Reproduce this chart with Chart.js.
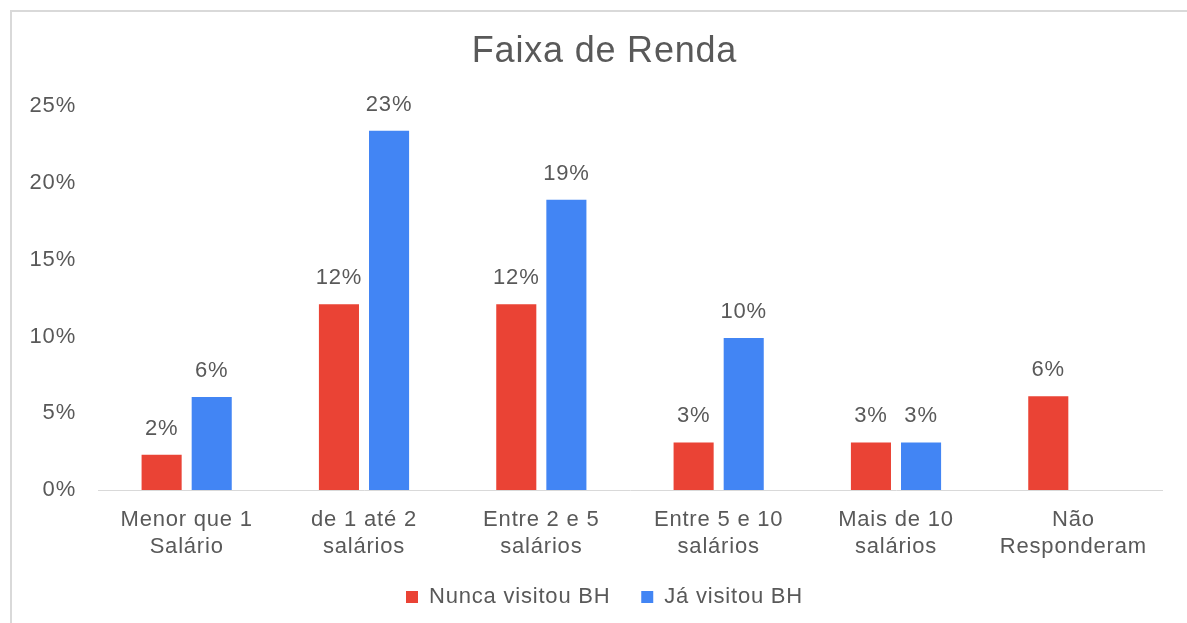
<!DOCTYPE html>
<html>
<head>
<meta charset="utf-8">
<script src="https://cdn.jsdelivr.net/npm/chart.js@4"></script>
<style>
  body { margin: 0; background: #fff; }
  #frame { position: absolute; left: 10px; top: 10px; width: 1200px; height: 700px; border: 2px solid #d9d9d9; }
  #wrap { position: absolute; left: 0; top: 0; width: 1187px; height: 623px; }
</style>
</head>
<body>
<div id="frame"></div>
<div id="wrap"><canvas id="rendaChart"></canvas></div>
<script>
const categories = [
    ["Menor que 1", "Salário"],
    ["de 1 até 2", "salários"],
    ["Entre 2 e 5", "salários"],
    ["Entre 5 e 10", "salários"],
    ["Mais de 10", "salários"],
    ["Não", "Responderam"]
];
const nuncaVisitou = [2.3, 12.1, 12.1, 3.1, 3.1, 6.1];
const jaVisitou = [6.05, 23.4, 18.9, 9.9, 3.1, null];
const yTicks = [0, 5, 10, 15, 20, 25];

const textColor = "#595959";
const fontFamily = "'Liberation Sans', Arial, sans-serif";

// excel-ish wider letter spacing
const spacing = {
    id: "spacing",
    beforeUpdate(chart) { chart.ctx.letterSpacing = "0.8px"; },
    beforeDraw(chart) { chart.ctx.letterSpacing = "0.8px"; }
};

const barLabels = {
    id: "barLabels",
    afterDatasetsDraw(chart) {
        const ctx = chart.ctx;
        ctx.save();
        ctx.font = `22px ${fontFamily}`;
        ctx.fillStyle = textColor;
        ctx.textAlign = "center";
        ctx.textBaseline = "middle";
        chart.data.datasets.forEach((ds, i) => {
            const meta = chart.getDatasetMeta(i);
            meta.data.forEach((bar, j) => {
                const v = ds.data[j];
                if (v === null || v === undefined) return;
                ctx.fillText(Math.round(v) + "%", bar.x, bar.y - 26);
            });
        });
        ctx.restore();
    }
};

new Chart(document.getElementById("rendaChart"), {
    type: "bar",
    data: {
        labels: categories,
        datasets: [{
            label: "Nunca visitou BH",
            data: nuncaVisitou,
            backgroundColor: "#EA4335",
            barPercentage: 0.8,
            categoryPercentage: 0.565
        }, {
            label: "Já visitou BH",
            data: jaVisitou,
            backgroundColor: "#4285F4",
            barPercentage: 0.8,
            categoryPercentage: 0.565
        }]
    },
    options: {
        responsive: true,
        maintainAspectRatio: false,
        animation: false,
        layout: { padding: { left: 22, right: 0, top: 0, bottom: 5 } },
        plugins: {
            title: {
                display: true,
                text: "Faixa de Renda",
                color: textColor,
                font: { family: fontFamily, size: 36, weight: "normal" },
                padding: { top: 30, bottom: 33 }
            },
            legend: {
                position: "bottom",
                labels: {
                    color: textColor,
                    font: { family: fontFamily, size: 22 },
                    boxWidth: 12,
                    boxHeight: 12,
                    padding: 10,
                    generateLabels(chart) {
                        const items = Chart.defaults.plugins.legend.labels.generateLabels(chart);
                        items[0].text = items[0].text + "   ";
                        return items;
                    }
                }
            },
            tooltip: { enabled: false }
        },
        scales: {
            x: {
                grid: { display: false, drawTicks: false },
                border: { display: true, color: "#d9d9d9", width: 1 },
                ticks: {
                    color: textColor,
                    font: { family: fontFamily, size: 22, lineHeight: 1.23 },
                    padding: 16,
                    maxRotation: 0,
                    autoSkip: false
                },
                afterFit(scale) { scale.height = 86; }
            },
            y: {
                min: 0,
                max: 25,
                afterBuildTicks(scale) { scale.ticks = yTicks.map(v => ({ value: v })); },
                grid: { display: false, drawTicks: false },
                border: { display: false },
                ticks: {
                    color: textColor,
                    font: { family: fontFamily, size: 22 },
                    padding: 22,
                    callback: v => v + "%"
                },
                afterFit(scale) { scale.width = 76; }
            },
            yRight: {
                position: "right",
                min: 0,
                max: 25,
                grid: { display: false, drawTicks: false },
                border: { display: false },
                ticks: { display: false },
                afterFit(scale) { scale.width = 25; }
            }
        }
    },
    plugins: [spacing, barLabels]
});
</script>
</body>
</html>
